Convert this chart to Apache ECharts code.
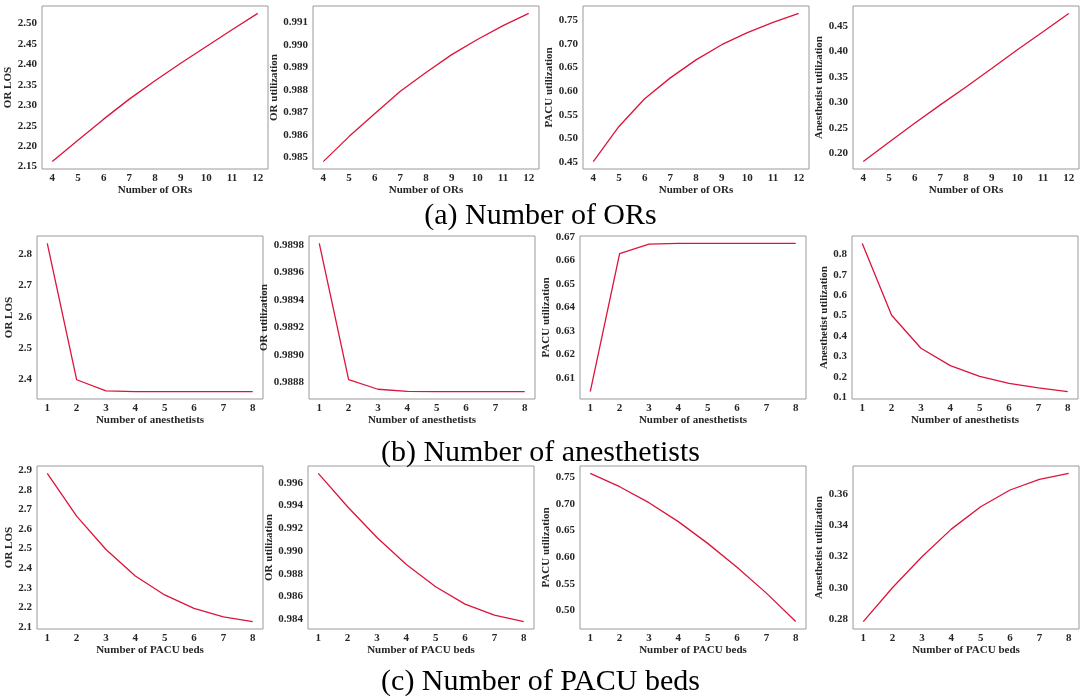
<!DOCTYPE html>
<html>
<head>
<meta charset="utf-8">
<script src="https://cdn.jsdelivr.net/npm/echarts@6/dist/echarts.min.js"></script>
<style>
  html, body { margin: 0; padding: 0; background: #fff; }
  #chart { width: 1081px; height: 696px; }
</style>
</head>
<body>
<div id="chart"></div>
<script>
// x categories
const numORs = [4, 5, 6, 7, 8, 9, 10, 11, 12];
const numAnesthetists = [1, 2, 3, 4, 5, 6, 7, 8];
const numPacuBeds = [1, 2, 3, 4, 5, 6, 7, 8];

// (a) varying number of ORs
const orLosByORs = [2.162, 2.214, 2.266, 2.315, 2.360, 2.403, 2.444, 2.485, 2.525];
const orUtilByORs = [0.98481, 0.98592, 0.98693, 0.98793, 0.98877, 0.98956, 0.99023, 0.99085, 0.99139];
const pacuUtilByORs = [0.4514, 0.5255, 0.5841, 0.628, 0.666, 0.698, 0.7235, 0.745, 0.764];
const anesUtilByORs = [0.184, 0.222, 0.259, 0.295, 0.330, 0.366, 0.403, 0.438, 0.474];

// (b) varying number of anesthetists
const orLosByAnes = [2.835, 2.398, 2.362, 2.360, 2.360, 2.360, 2.360, 2.360];
const orUtilByAnes = [0.98981, 0.98882, 0.98875, 0.988735, 0.988733, 0.988733, 0.988733, 0.988733];
const pacuUtilByAnes = [0.6043, 0.6629, 0.6669, 0.6672, 0.6672, 0.6672, 0.6672, 0.6672];
const anesUtilByAnes = [0.854, 0.502, 0.340, 0.255, 0.2026, 0.168, 0.1456, 0.1277];

// (c) varying number of PACU beds
const orLosByPacu = [2.883, 2.665, 2.495, 2.360, 2.263, 2.194, 2.151, 2.127];
const orUtilByPacu = [0.99682, 0.99389, 0.99119, 0.98881, 0.98685, 0.98533, 0.98435, 0.98379];
const pacuUtilByPacu = [0.7575, 0.7325, 0.7025, 0.6669, 0.626, 0.581, 0.5325, 0.479];
const anesUtilByPacu = [0.2785, 0.3003, 0.3199, 0.3376, 0.3519, 0.3626, 0.3694, 0.3732];

// y tick labels
const ticksOrLosA = ['2.15', '2.20', '2.25', '2.30', '2.35', '2.40', '2.45', '2.50'];
const ticksOrUtilA = ['0.985', '0.986', '0.987', '0.988', '0.989', '0.990', '0.991'];
const ticksPacuUtilA = ['0.45', '0.50', '0.55', '0.60', '0.65', '0.70', '0.75'];
const ticksAnesUtilA = ['0.20', '0.25', '0.30', '0.35', '0.40', '0.45'];
const ticksOrLosB = ['2.4', '2.5', '2.6', '2.7', '2.8'];
const ticksOrUtilB = ['0.9888', '0.9890', '0.9892', '0.9894', '0.9896', '0.9898'];
const ticksPacuUtilB = ['0.61', '0.62', '0.63', '0.64', '0.65', '0.66', '0.67'];
const ticksAnesUtilB = ['0.1', '0.2', '0.3', '0.4', '0.5', '0.6', '0.7', '0.8'];
const ticksOrLosC = ['2.1', '2.2', '2.3', '2.4', '2.5', '2.6', '2.7', '2.8', '2.9'];
const ticksOrUtilC = ['0.984', '0.986', '0.988', '0.990', '0.992', '0.994', '0.996'];
const ticksPacuUtilC = ['0.50', '0.55', '0.60', '0.65', '0.70', '0.75'];
const ticksAnesUtilC = ['0.28', '0.30', '0.32', '0.34', '0.36'];

const captions = ['(a) Number of ORs', '(b) Number of anesthetists', '(c) Number of PACU beds'];

const panels = [
  { xs: numORs, ys: orLosByORs, ticks: ticksOrLosA, yName: 'OR LOS', xName: 'Number of ORs', left: 42, top: 6, gap: 23 },
  { xs: numORs, ys: orUtilByORs, ticks: ticksOrUtilA, yName: 'OR utilization', xName: 'Number of ORs', left: 313, top: 6, gap: 29 },
  { xs: numORs, ys: pacuUtilByORs, ticks: ticksPacuUtilA, yName: 'PACU utilization', xName: 'Number of ORs', left: 583, top: 6, gap: 24 },
  { xs: numORs, ys: anesUtilByORs, ticks: ticksAnesUtilA, yName: 'Anesthetist utilization', xName: 'Number of ORs', left: 853, top: 6, gap: 22 },
  { xs: numAnesthetists, ys: orLosByAnes, ticks: ticksOrLosB, yName: 'OR LOS', xName: 'Number of anesthetists', left: 37, top: 236, gap: 18 },
  { xs: numAnesthetists, ys: orUtilByAnes, ticks: ticksOrUtilB, yName: 'OR utilization', xName: 'Number of anesthetists', left: 309, top: 236, gap: 33 },
  { xs: numAnesthetists, ys: pacuUtilByAnes, ticks: ticksPacuUtilB, yName: 'PACU utilization', xName: 'Number of anesthetists', left: 580, top: 236, gap: 22 },
  { xs: numAnesthetists, ys: anesUtilByAnes, ticks: ticksAnesUtilB, yName: 'Anesthetist utilization', xName: 'Number of anesthetists', left: 852, top: 236, gap: 18 },
  { xs: numPacuBeds, ys: orLosByPacu, ticks: ticksOrLosC, yName: 'OR LOS', xName: 'Number of PACU beds', left: 37, top: 466, gap: 18 },
  { xs: numPacuBeds, ys: orUtilByPacu, ticks: ticksOrUtilC, yName: 'OR utilization', xName: 'Number of PACU beds', left: 308, top: 466, gap: 28 },
  { xs: numPacuBeds, ys: pacuUtilByPacu, ticks: ticksPacuUtilC, yName: 'PACU utilization', xName: 'Number of PACU beds', left: 580, top: 466, gap: 24 },
  { xs: numPacuBeds, ys: anesUtilByPacu, ticks: ticksAnesUtilC, yName: 'Anesthetist utilization', xName: 'Number of PACU beds', left: 853, top: 466, gap: 24 }
];

const captionTops = [196, 433, 662];

const FONT = '"Liberation Serif", "DejaVu Serif", serif';
const labelStyle = { fontFamily: FONT, fontWeight: 'bold', fontSize: 11, color: '#262626' };

const chart = echarts.init(document.getElementById('chart'));

const grid = [], xAxis = [], yAxis = [], series = [];
panels.forEach((p, i) => {
  grid.push({
    left: p.left, top: p.top, width: 226, height: 163,
    show: true, borderColor: '#9a9a9a', borderWidth: 1
  });
  const span = p.xs[p.xs.length - 1] - p.xs[0];
  xAxis.push({
    type: 'value', gridIndex: i,
    min: p.xs[0] - 0.05 * span,
    max: p.xs[p.xs.length - 1] + 0.05 * span,
    name: p.xName, nameLocation: 'middle', nameGap: 14,
    nameTextStyle: labelStyle,
    axisLine: { show: false }, axisTick: { show: false }, splitLine: { show: false },
    axisLabel: Object.assign({ customValues: p.xs, margin: 4 }, labelStyle)
  });
  const tickVals = p.ticks.map(Number);
  yAxis.push({
    type: 'value', gridIndex: i,
    min: v => v.min - 0.05 * (v.max - v.min),
    max: v => v.max + 0.05 * (v.max - v.min),
    name: p.yName, nameLocation: 'middle', nameGap: p.gap,
    nameTextStyle: labelStyle,
    axisLine: { show: false }, axisTick: { show: false }, splitLine: { show: false },
    axisLabel: Object.assign({
      customValues: tickVals, margin: 5,
      formatter: v => {
        const k = tickVals.findIndex(t => Math.abs(t - v) < 1e-9);
        return k >= 0 ? p.ticks[k] : '';
      }
    }, labelStyle)
  });
  series.push({
    type: 'line', xAxisIndex: i, yAxisIndex: i,
    data: p.xs.map((x, j) => [x, p.ys[j]]),
    showSymbol: false, silent: true,
    lineStyle: { color: '#dc143c', width: 1.3 }
  });
});

const option = {
  animation: false,
  title: captions.map((c, k) => ({
    text: c, left: 'center', top: captionTops[k],
    textStyle: { fontFamily: FONT, fontWeight: 'normal', fontSize: 30, color: '#000' }
  })),
  grid, xAxis, yAxis, series
};

chart.setOption(option);
</script>
</body>
</html>
